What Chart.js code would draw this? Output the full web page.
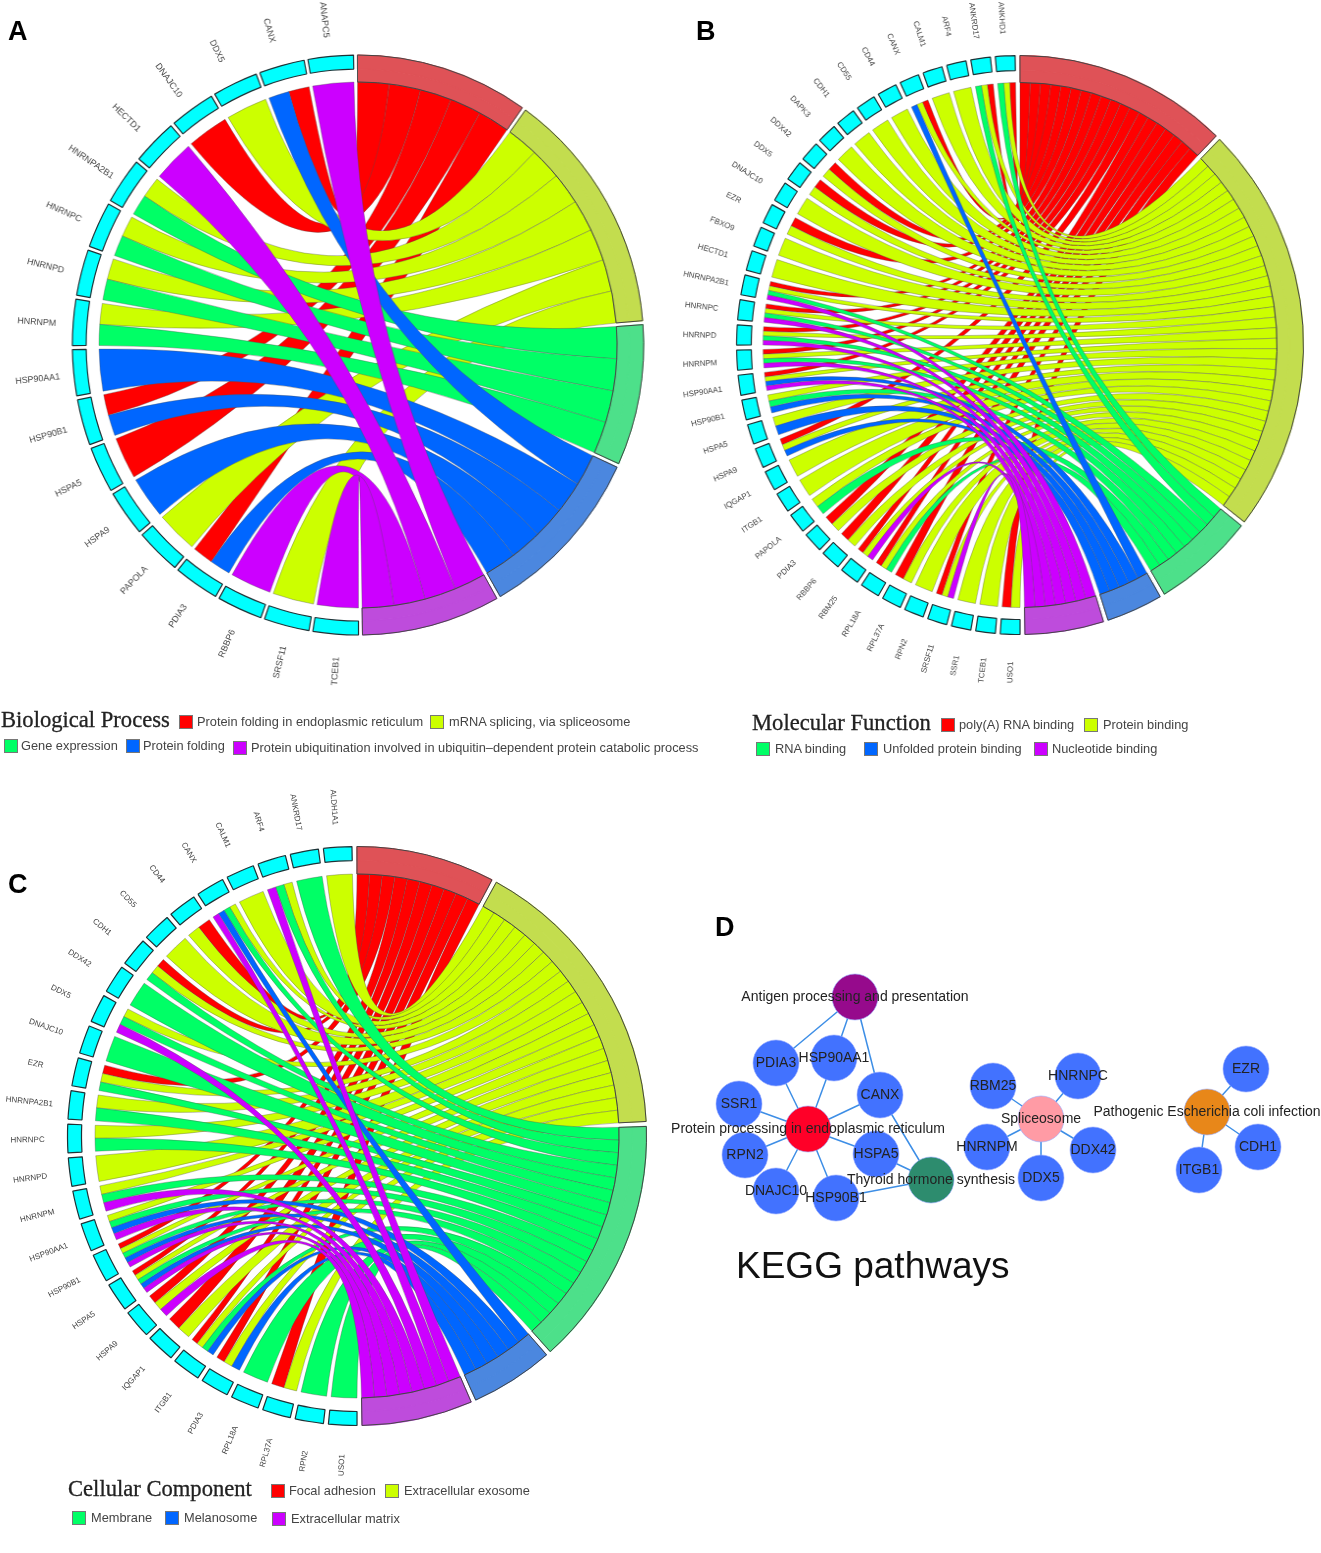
<!DOCTYPE html>
<html>
<head>
<meta charset="utf-8">
<title>GO chord diagrams and KEGG pathways</title>
<script src="https://cdn.jsdelivr.net/npm/chart.js@4"></script>
<style>
  html, body { margin: 0; padding: 0; background: #fff; }
  #page { position: relative; width: 1321px; height: 1553px; overflow: hidden; font-family: "Liberation Sans", Arial, sans-serif; }
  canvas { position: absolute; }
  .txt { position: absolute; white-space: nowrap; line-height: 1; transform: translateY(-50%); }
  .sw { position: absolute; width: 12px; height: 12px; border: 1px solid #777; transform: translateY(-50%); }
</style>
</head>
<body>
<div id="page"></div>
<script>
// term colours, same order in all three chord panels
const ribbonColors = ['#ff0000', '#ccff00', '#00ff66', '#0066ff', '#cc00ff'];
const ringColors = ['#df5257', '#c3dd4e', '#4de08a', '#4b87df', '#be4cdc'];

// Panel A - Biological Process
const aTerms = ['Protein folding in endoplasmic reticulum', 'mRNA splicing, via spliceosome', 'Gene expression', 'Protein folding',
  'Protein ubiquitination involved in ubiquitin\u2013dependent protein catabolic process'];
const aGenes = ['ANAPC5', 'CANX', 'DDX5', 'DNAJC10', 'HECTD1', 'HNRNPA2B1', 'HNRNPC', 'HNRNPD', 'HNRNPM', 'HSP90AA1', 'HSP90B1', 'HSPA5',
  'HSPA9', 'PAPOLA', 'PDIA3', 'RBBP6', 'SRSF11', 'TCEB1'];
// term indexes for each gene
const aLinks = [[4], [0, 3], [1], [0], [4], [1, 2], [1, 2], [1, 2], [1, 2], [3], [0, 3], [0], [3], [1], [0, 3], [4], [1], [4]];

// Panel B - Molecular Function
const bTerms = ['poly(A) RNA binding', 'Protein binding', 'RNA binding', 'Unfolded protein binding', 'Nucleotide binding'];
const bGenes = ['ANKHD1', 'ANKRD17', 'ARF4', 'CALM1', 'CANX', 'CD44', 'CD55', 'CDH1', 'DAPK3', 'DDX42', 'DDX5', 'DNAJC10', 'EZR', 'FBXO9',
  'HECTD1', 'HNRNPA2B1', 'HNRNPC', 'HNRNPD', 'HNRNPM', 'HSP90AA1', 'HSP90B1', 'HSPA5', 'HSPA9', 'IQGAP1', 'ITGB1', 'PAPOLA', 'PDIA3',
  'RBBP6', 'RBM25', 'RPL18A', 'RPL37A', 'RPN2', 'SRSF11', 'SSR1', 'TCEB1', 'USO1'];
const bLinks = [[0, 1, 2], [0, 1, 2], [1], [1], [0, 1, 3], [1], [1], [1], [1], [0, 1], [0, 1], [1], [0, 1], [1], [1],
  [0, 1, 2, 4], [0, 1, 2, 4], [0, 1, 2, 4], [0, 1, 2, 4], [0, 1, 3, 4], [1, 2, 3], [1, 3], [0, 1, 3], [1], [1], [1, 2], [0, 1],
  [0, 1], [0, 1, 4], [0, 1, 2], [0, 1], [1], [0, 1, 4], [1], [1], [0, 1]];

// Panel C - Cellular Component
const cTerms = ['Focal adhesion', 'Extracellular exosome', 'Membrane', 'Melanosome', 'Extracellular matrix'];
const cGenes = ['ALDH1A1', 'ANKRD17', 'ARF4', 'CALM1', 'CANX', 'CD44', 'CD55', 'CDH1', 'DDX42', 'DDX5', 'DNAJC10', 'EZR', 'HNRNPA2B1',
  'HNRNPC', 'HNRNPD', 'HNRNPM', 'HSP90AA1', 'HSP90B1', 'HSPA5', 'HSPA9', 'IQGAP1', 'ITGB1', 'PDIA3', 'RPL18A', 'RPL37A', 'RPN2', 'USO1'];
const cLinks = [[1], [2], [1, 2, 4], [1], [1, 2, 3, 4], [0, 1], [1], [0, 1, 2], [2], [1, 2, 4], [2], [0, 1, 2], [1, 2],
  [1, 2], [1], [1, 2, 4], [1, 2, 3, 4], [0, 1, 2, 3, 4], [0, 1, 2, 3, 4], [0, 1, 4], [0, 1], [0, 1, 2, 3], [0, 1, 3], [2], [0, 1], [2], [2]];

// Panel D - KEGG network
const nodeNames = ['Antigen processing and presentation', 'Protein processing in endoplasmic reticulum', 'Thyroid hormone synthesis', 'Spliceosome',
  'Pathogenic Escherichia coli infection', 'PDIA3', 'HSP90AA1', 'CANX', 'SSR1', 'RPN2', 'HSPA5', 'DNAJC10', 'HSP90B1', 'RBM25', 'HNRNPC',
  'HNRNPM', 'DDX42', 'DDX5', 'EZR', 'CDH1', 'ITGB1'];
const nodeX = [855, 808, 931, 1041, 1207, 776, 834, 880, 739, 745, 876, 776, 836, 993, 1078, 987, 1093, 1041, 1246, 1258, 1199];
const nodeY = [997, 1129, 1180, 1119, 1112, 1063, 1058, 1095, 1104, 1155, 1154, 1191, 1198, 1086, 1076, 1147, 1150, 1178, 1069, 1147, 1170];
const nodeColors = ['#960a8c', '#ff0028', '#2d8c6e', '#ff9ba5', '#e88719'];
const geneNodeColor = '#4272ff';
const edgeFrom = [0, 0, 0, 1, 1, 1, 1, 1, 1, 1, 1, 2, 2, 2, 3, 3, 3, 3, 3, 4, 4, 4];
const edgeTo = [5, 6, 7, 5, 6, 7, 8, 9, 10, 11, 12, 7, 10, 12, 13, 14, 15, 16, 17, 18, 19, 20];

const page = document.getElementById('page');
const clear = 'rgba(0,0,0,0)';

function addText(str, x, y, size, color, family) {
  const el = document.createElement('div');
  el.className = 'txt';
  el.textContent = str;
  el.style.left = x + 'px';
  el.style.top = y + 'px';
  el.style.fontSize = size + 'px';
  el.style.color = color;
  if (family) el.style.fontFamily = family;
  page.appendChild(el);
  return el;
}

function addLegendItem(color, str, swatchX, textX, y) {
  const sw = document.createElement('div');
  sw.className = 'sw';
  sw.style.left = swatchX + 'px';
  sw.style.top = y + 'px';
  sw.style.background = color;
  page.appendChild(sw);
  addText(str, textX, y, 12.8, '#444');
}

function addCanvas(left, top, w, h) {
  const c = document.createElement('canvas');
  c.width = w;
  c.height = h;
  c.style.left = left + 'px';
  c.style.top = top + 'px';
  c.style.width = w + 'px';
  c.style.height = h + 'px';
  page.appendChild(c);
  return c;
}

// Chord panel: the rings are a doughnut, the ribbons and labels hang off its arc elements
function chordChart(terms, genes, links, geo) {
  const size = 740;
  const canvas = addCanvas(geo.cx - size / 2, geo.cy - size / 2, size, size);
  // the source panels are slightly squeezed sideways
  canvas.style.transform = 'scaleX(' + geo.sx + ')';
  const counts = terms.map((_, t) => links.filter(l => l.includes(t)).length);
  const total = counts.reduce((a, b) => a + b, 0);
  const n = terms.length;

  // every cell is followed by a blank slice, half a turn for each side
  const gapShare = (geo.gap / geo.R) / (2 * Math.PI);
  const termShare = 0.5 - n * gapShare;
  const geneShare = 0.5 - genes.length * gapShare;
  const values = [];
  const fills = [];
  const edges = [];
  const innerFills = [];
  const labels = [];
  terms.forEach((name, t) => {
    values.push(termShare * counts[t] / total, gapShare);
    fills.push(ringColors[t], clear);
    edges.push(ringColors[t], clear);
    innerFills.push(ringColors[t], clear);
    labels.push(name, '');
  });
  genes.slice().reverse().forEach(name => {
    values.push(geneShare / genes.length, gapShare);
    fills.push('#00ffff', clear);
    edges.push('#1f3337', clear);
    innerFills.push(clear, clear);
    labels.push(name, '');
  });

  const chordPlugin = {
    id: 'chord',
    afterDatasetsDraw(chart) {
      const ctx = chart.ctx;
      const arcs = chart.getDatasetMeta(0).data;
      const cx = chart.width / 2;
      const cy = chart.height / 2;
      const termArc = t => arcs[2 * t];
      const geneArc = i => arcs[2 * (n + genes.length - 1 - i)];
      const rib = geo.rIn;

      // slots on the term side and on the gene side
      const termNext = counts.map(() => 0);
      const ribbons = [];
      genes.forEach((g, i) => {
        const a = geneArc(i);
        const w = (a.endAngle - a.startAngle) / links[i].length;
        links[i].forEach((t, k) => {
          const ta = termArc(t);
          const tw = (ta.endAngle - ta.startAngle) / counts[t];
          const slot = termNext[t]++;
          ribbons.push({
            t: t,
            t0: ta.startAngle + tw * slot,
            t1: ta.startAngle + tw * (slot + 1),
            g1: a.endAngle - w * k,
            g0: a.endAngle - w * (k + 1)
          });
        });
      });

      // red first, purple last, as in the original overlap
      ctx.save();
      ctx.lineWidth = 0.6;
      ctx.strokeStyle = 'rgba(80,80,80,0.6)';
      terms.forEach((_, t) => {
        ribbons.filter(r => r.t === t).forEach(r => {
          ctx.beginPath();
          ctx.arc(cx, cy, rib, r.t0, r.t1);
          ctx.quadraticCurveTo(cx, cy, cx + rib * Math.cos(r.g0), cy + rib * Math.sin(r.g0));
          ctx.arc(cx, cy, rib, r.g0, r.g1);
          ctx.quadraticCurveTo(cx, cy, cx + rib * Math.cos(r.t0), cy + rib * Math.sin(r.t0));
          ctx.closePath();
          ctx.fillStyle = ribbonColors[t];
          ctx.fill();
          ctx.stroke();
        });
      });

      // dark outline of the term ring
      ctx.strokeStyle = '#444';
      ctx.lineWidth = 1;
      terms.forEach((_, t) => {
        const a = termArc(t);
        ctx.beginPath();
        ctx.arc(cx, cy, geo.R, a.startAngle, a.endAngle);
        ctx.arc(cx, cy, geo.rIn, a.endAngle, a.startAngle, true);
        ctx.closePath();
        ctx.stroke();
      });

      // gene labels point at the centre
      ctx.fillStyle = '#444';
      ctx.font = geo.font + 'px "Liberation Sans", Arial, sans-serif';
      ctx.textAlign = 'center';
      ctx.textBaseline = 'middle';
      const shift = geo.labelShift * Math.PI / 180;
      genes.forEach((g, i) => {
        const a = geneArc(i);
        const mid = (a.startAngle + a.endAngle) / 2 - shift;
        ctx.save();
        ctx.translate(cx + (geo.R + geo.label) * Math.cos(mid), cy + (geo.R + geo.label) * Math.sin(mid));
        ctx.rotate(mid + Math.PI);
        ctx.fillText(g, 0, 0);
        ctx.restore();
      });
      ctx.restore();
    }
  };

  return new Chart(canvas, {
    type: 'doughnut',
    data: {
      labels: labels,
      datasets: [
        {
          // outer band: gene cells plus the outer part of the term cells
          data: values,
          backgroundColor: fills,
          borderColor: edges,
          borderWidth: 1.2,
          weight: geo.geneW
        },
        {
          // inner band: only the term cells show
          data: values,
          backgroundColor: innerFills,
          borderColor: innerFills,
          borderWidth: 1,
          weight: geo.R - geo.rIn - geo.geneW
        }
      ]
    },
    options: {
      responsive: false,
      animation: false,
      rotation: geo.rotation + gapShare * 180,
      radius: geo.R,
      cutout: (geo.rIn / geo.R * 100) + '%',
      layout: { padding: 0 },
      plugins: { legend: { display: false }, tooltip: { enabled: false } }
    },
    plugins: [chordPlugin]
  });
}

function keggChart() {
  const canvas = addCanvas(660, 900, 661, 400);
  const points = nodeX.map((x, i) => ({ x: x, y: nodeY[i] }));
  const edges = edgeFrom.map((f, i) => ({
    type: 'scatter',
    data: [points[f], points[edgeTo[i]]],
    showLine: true,
    borderColor: '#3d8ee6',
    borderWidth: 1.5,
    pointRadius: 0,
    order: 2
  }));
  const labelPlugin = {
    id: 'nodeLabels',
    afterDatasetsDraw(chart) {
      const ctx = chart.ctx;
      ctx.save();
      ctx.fillStyle = '#222';
      ctx.font = '14px "Liberation Sans", Arial, sans-serif';
      ctx.textAlign = 'center';
      ctx.textBaseline = 'middle';
      nodeNames.forEach((name, i) => {
        ctx.fillText(name, chart.scales.x.getPixelForValue(nodeX[i]), chart.scales.y.getPixelForValue(nodeY[i]));
      });
      ctx.restore();
    }
  };
  return new Chart(canvas, {
    type: 'scatter',
    data: {
      datasets: [{
        data: points,
        pointRadius: 23,
        pointBackgroundColor: nodeNames.map((_, i) => nodeColors[i] || geneNodeColor),
        pointBorderColor: 'rgba(150,170,255,0.6)',
        pointBorderWidth: 1,
        order: 1
      }, ...edges]
    },
    options: {
      responsive: false,
      animation: false,
      layout: { padding: 0, autoPadding: false },
      scales: {
        x: { type: 'linear', display: false, min: 660, max: 1321 },
        y: { type: 'linear', display: false, min: 900, max: 1300, reverse: true }
      },
      plugins: { legend: { display: false }, tooltip: { enabled: false } }
    },
    plugins: [labelPlugin]
  });
}

chordChart(aTerms, aGenes, aLinks, { cx: 357.5, cy: 345, R: 290, rIn: 263, geneW: 14, sx: 0.985, gap: 4, rotation: -0.5, font: 9, label: 37, labelShift: 0.5 });
chordChart(bTerms, bGenes, bLinks, { cx: 1019.5, cy: 344.5, R: 289.5, rIn: 262.5, geneW: 15, sx: 0.979, gap: 5, rotation: -0.5, font: 8, label: 38, labelShift: 0.3 });
chordChart(cTerms, cGenes, cLinks, { cx: 357, cy: 1135.5, R: 289.5, rIn: 262, geneW: 14, sx: 1, gap: 5, rotation: -0.5, font: 8, label: 40, labelShift: 0.2 });
keggChart();

// panel letters
const letterFont = 'bold 27px "Liberation Sans", Arial, sans-serif';
[['A', 8, 31], ['B', 696, 31], ['C', 8, 884], ['D', 715, 927]].forEach(l => {
  addText(l[0], l[1], l[2], 27, '#000').style.font = letterFont;
});

const serif = '"Liberation Serif", "Times New Roman", serif';
[addText('Biological Process', 1, 720, 22.6, '#222', serif),
 addText('Molecular Function', 752, 723, 22.6, '#222', serif),
 addText('Cellular Component', 68, 1489, 22.6, '#222', serif)].forEach(el => {
  el.style.webkitTextStroke = '0.3px #222';
});

addLegendItem(ribbonColors[0], aTerms[0], 179, 197, 722);
addLegendItem(ribbonColors[1], aTerms[1], 430, 449, 722);
addLegendItem(ribbonColors[2], aTerms[2], 4, 21, 746);
addLegendItem(ribbonColors[3], aTerms[3], 126, 143, 746);
addLegendItem(ribbonColors[4], aTerms[4], 233, 251, 748);

addLegendItem(ribbonColors[0], bTerms[0], 941, 959, 725);
addLegendItem(ribbonColors[1], bTerms[1], 1084, 1103, 725);
addLegendItem(ribbonColors[2], bTerms[2], 756, 775, 749);
addLegendItem(ribbonColors[3], bTerms[3], 864, 883, 749);
addLegendItem(ribbonColors[4], bTerms[4], 1034, 1052, 749);

addLegendItem(ribbonColors[0], cTerms[0], 271, 289, 1491);
addLegendItem(ribbonColors[1], cTerms[1], 385, 404, 1491);
addLegendItem(ribbonColors[2], cTerms[2], 72, 91, 1518);
addLegendItem(ribbonColors[3], cTerms[3], 165, 184, 1518);
addLegendItem(ribbonColors[4], cTerms[4], 272, 291, 1519);

addText('KEGG pathways', 736, 1265, 37, '#111');
</script>
</body>
</html>
